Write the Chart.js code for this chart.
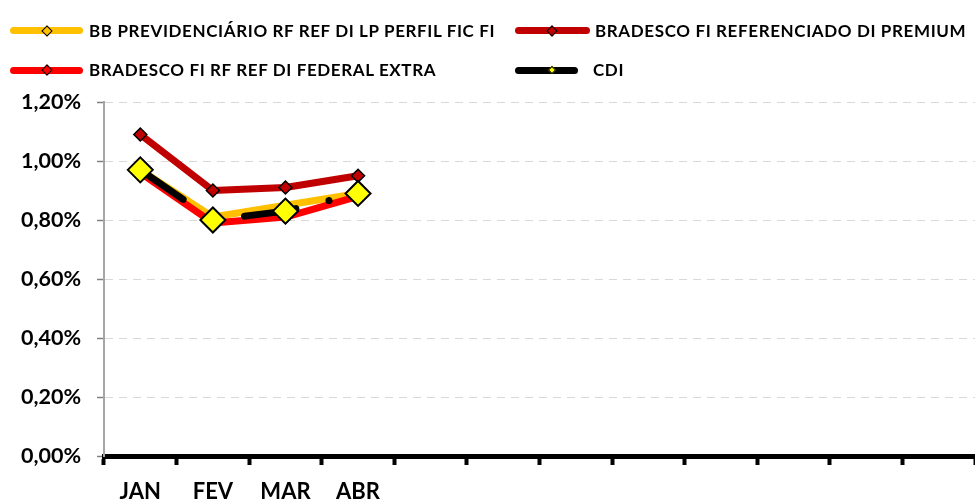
<!DOCTYPE html>
<html>
<head>
<meta charset="utf-8">
<script src="https://cdn.jsdelivr.net/npm/chart.js@4"></script>
<style>
  body { margin: 0; background: #fff; }
  #wrap { position: relative; width: 975px; height: 501px; font-family: Lato, sans-serif; }
  #chart { position: absolute; left: 0; top: 0; }
  .lg-line { position: absolute; height: 7px; border-radius: 4px; }
  .lg-mark { position: absolute; box-sizing: border-box; border: 1.5px solid #000; transform: translate(-50%, -50%) rotate(45deg); }
  .lg-text { position: absolute; font-weight: bold; font-size: 17px; letter-spacing: 0.62px; line-height: 20px; white-space: nowrap; color: #000; transform: translateY(-50%); }
</style>
</head>
<body>
<div id="wrap">
  <canvas id="chart" width="975" height="501"></canvas>
  <div id="legend"></div>
</div>
<script>
// months (only the first four carry a name in the original)
const months = ['JAN', 'FEV', 'MAR', 'ABR', '', '', '', '', '', '', '', ''];

// monthly return, in %
const bbPrev = [0.97, 0.81, 0.85, 0.89];
const bradPremium = [1.09, 0.90, 0.91, 0.95];
const bradFederal = [0.96, 0.79, 0.81, 0.88];
const cdi = [0.97, 0.80, 0.83, 0.89];

const seriesNames = [
  'BB PREVIDENCIÁRIO RF REF DI LP PERFIL FIC FI',
  'BRADESCO FI REFERENCIADO DI PREMIUM',
  'BRADESCO FI RF REF DI FEDERAL EXTRA',
  'CDI'
];
const lineColors = ['#FFC000', '#C00000', '#FF0000', '#000000'];
const markColors = ['#FFC000', '#C00000', '#FF0000', '#FFFF00'];

// y axis ticks, in %
const yMin = 0, yMax = 1.2, yStep = 0.2;

// legend placement (2 columns)
const legendPos = [
  { x: 10, y: 30.5, w: 73, mx: 47, ms: 8, tx: 89 },
  { x: 515, y: 30.5, w: 75, mx: 552, ms: 8, tx: 595 },
  { x: 10, y: 70, w: 73, mx: 47, ms: 8, tx: 89 },
  { x: 515, y: 70, w: 63, mx: 552, ms: 6, tx: 593 }
];

function buildLegend() {
  const box = document.getElementById('legend');
  seriesNames.forEach((name, i) => {
    const p = legendPos[i];
    const line = document.createElement('div');
    line.className = 'lg-line';
    line.style.left = p.x + 'px';
    line.style.top = (p.y - 3.5) + 'px';
    line.style.width = p.w + 'px';
    line.style.background = lineColors[i];
    box.appendChild(line);

    const mark = document.createElement('div');
    mark.className = 'lg-mark';
    mark.style.left = p.mx + 'px';
    mark.style.top = p.y + 'px';
    mark.style.width = p.ms + 'px';
    mark.style.height = p.ms + 'px';
    mark.style.background = markColors[i];
    if (i === 3) mark.style.borderWidth = '1px';
    box.appendChild(mark);

    const txt = document.createElement('div');
    txt.className = 'lg-text';
    txt.style.left = p.tx + 'px';
    txt.style.top = p.y + 'px';
    txt.textContent = name;
    box.appendChild(txt);
  });
}
buildLegend();

Chart.defaults.font.family = 'Lato';
Chart.defaults.font.weight = 'bold';
Chart.defaults.color = '#000';

const seriesData = [bbPrev, bradPremium, bradFederal, cdi];
const drawOrder = [4, 3, 2, 1];

const datasets = seriesData.map((data, i) => ({
  label: seriesNames[i],
  data: data,
  borderColor: lineColors[i],
  borderWidth: 7,
  borderJoinStyle: 'round',
  borderCapStyle: 'round',
  pointStyle: 'rectRot',
  pointRadius: i === 3 ? 12.5 : 6.5,
  pointBackgroundColor: markColors[i],
  pointBorderColor: '#000',
  pointBorderWidth: i === 3 ? 2 : 1.5,
  tension: 0,
  order: drawOrder[i]
}));
// CDI is drawn as a long dash - dot line
datasets[3].borderDash = [52, 34, 0.1, 34];

new Chart(document.getElementById('chart'), {
  type: 'line',
  data: { labels: months, datasets: datasets },
  options: {
    responsive: false,
    animation: false,
    layout: { autoPadding: false, padding: { top: 102, right: 0, left: 0, bottom: 0 } },
    plugins: { legend: { display: false }, tooltip: { enabled: false } },
    scales: {
      x: {
        offset: true,
        grid: {
          offset: true,
          drawOnChartArea: false,
          tickLength: 9,
          tickWidth: 4,
          tickColor: '#000'
        },
        border: { color: '#000', width: 5 },
        ticks: { autoSkip: false, maxRotation: 0, padding: 14, font: { size: 22, weight: 'bold' } },
        afterFit: scale => { scale.height = 45; }
      },
      y: {
        min: yMin,
        max: yMax,
        grid: {
          color: '#D9D9D9',
          lineWidth: 1,
          tickLength: 7,
          tickColor: '#808080',
          tickWidth: 1.5
        },
        border: { color: '#A6A6A6', width: 2, dash: [8, 6] },
        ticks: {
          stepSize: yStep,
          padding: 16,
          font: { size: 21.5, weight: 'bold' },
          callback: v => v.toFixed(2).replace('.', ',') + '%'
        },
        afterFit: scale => { scale.width = 104; }
      }
    }
  }
});
</script>
</body>
</html>
